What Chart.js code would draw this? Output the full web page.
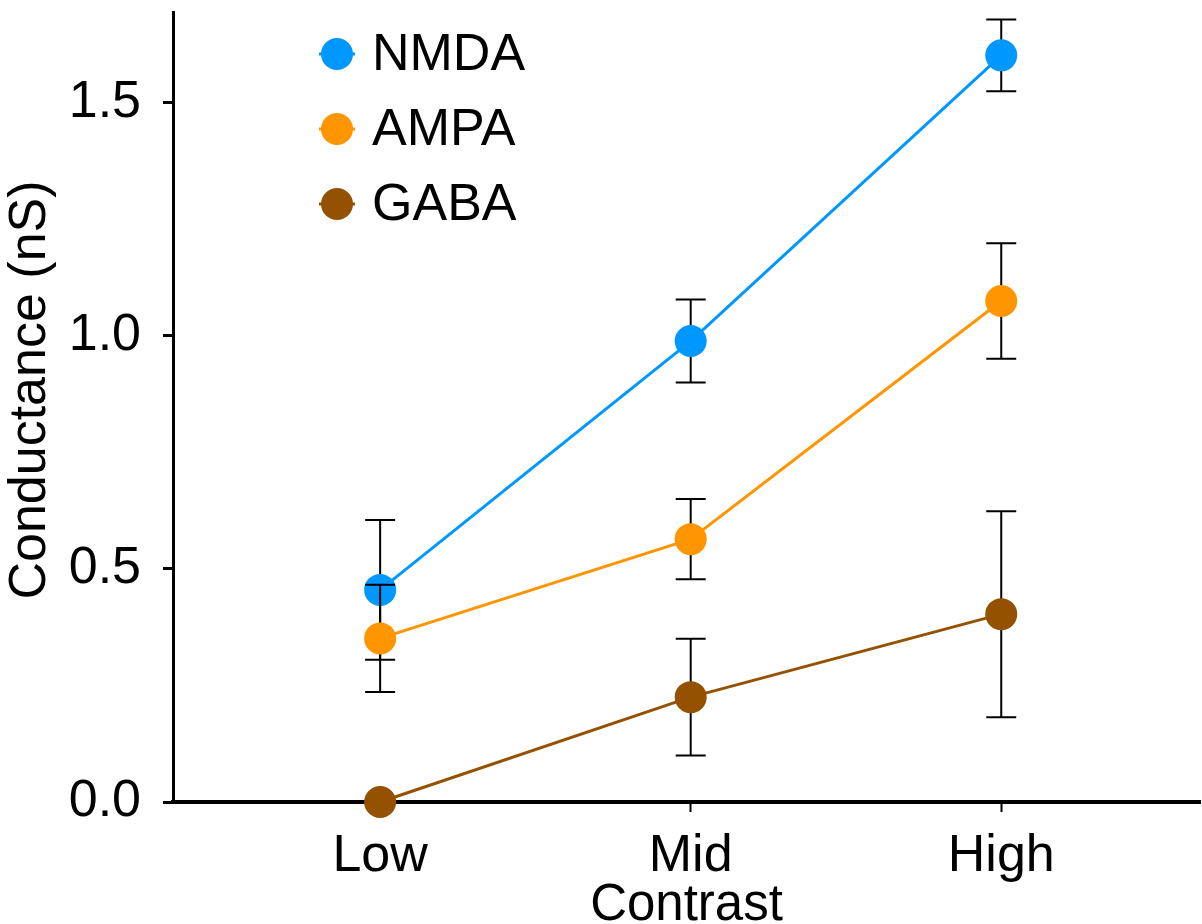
<!DOCTYPE html>
<html>
<head>
<meta charset="utf-8">
<script src="https://cdn.jsdelivr.net/npm/chart.js@4"></script>
<style>
  html, body { margin: 0; padding: 0; background: #fff; }
  #wrap { width: 1202px; height: 924px; position: relative; }
</style>
</head>
<body>
<div id="wrap"><canvas id="chart"></canvas></div>
<script>
// Data
const categories = ['Low', 'Mid', 'High'];
const seriesNames = ['NMDA', 'AMPA', 'GABA'];
const nmdaMean = [0.455, 0.989, 1.602];
const nmdaErr = [0.150, 0.089, 0.077];
const ampaMean = [0.351, 0.564, 1.075];
const ampaErr = [0.115, 0.086, 0.124];
const gabaMean = [0.0, 0.225, 0.403];
const gabaErr = [0.0, 0.125, 0.221];
const yTicks = [0, 0.5, 1.0, 1.5];

const colors = ['#0098ff', '#ff9500', '#945200'];
const FONT = "'Liberation Sans', Arial, Helvetica, sans-serif";

function points(arr) {
    return arr.map((v, i) => ({ x: i, y: v }));
}

function makeDataset(idx, mean, err) {
    return {
        label: seriesNames[idx],
        data: points(mean),
        errors: err,
        borderColor: colors[idx],
        backgroundColor: colors[idx],
        borderWidth: 3,
        pointRadius: 16,
        pointHoverRadius: 16,
        pointBorderWidth: 0,
        pointBackgroundColor: colors[idx],
        tension: 0,
        clip: false,
        order: 3 - idx // draw NMDA first, GABA last
    };
}

// Error bars drawn through the chart scales, just before each dataset
const errorBars = {
    id: 'errorBars',
    beforeDatasetDraw(chart, args) {
        const ds = chart.data.datasets[args.index];
        if (!ds.errors) return;
        const { ctx, scales: { x, y } } = chart;
        ctx.save();
        ctx.strokeStyle = '#000';
        ctx.lineWidth = 2;
        ds.data.forEach((p, i) => {
            const e = ds.errors[i];
            if (!e) return;
            const px = x.getPixelForValue(p.x);
            const top = y.getPixelForValue(p.y + e);
            const bot = y.getPixelForValue(p.y - e);
            ctx.beginPath();
            ctx.moveTo(px, top);
            ctx.lineTo(px, bot);
            ctx.moveTo(px - 15, top);
            ctx.lineTo(px + 15, top);
            ctx.moveTo(px - 15, bot);
            ctx.lineTo(px + 15, bot);
            ctx.stroke();
        });
        ctx.restore();
    }
};

// Legend in the upper left of the plot, and the y axis title
const plotLegend = {
    id: 'plotLegend',
    afterDraw(chart) {
        const ctx = chart.ctx;
        ctx.save();
        ctx.font = '52px ' + FONT;
        chart.data.datasets.forEach((ds, i) => {
            const cx = 337;
            const cy = 54 + i * 75;
            ctx.strokeStyle = ds.borderColor;
            ctx.lineWidth = 3;
            ctx.beginPath();
            ctx.moveTo(cx - 18, cy);
            ctx.lineTo(cx + 18, cy);
            ctx.stroke();
            ctx.fillStyle = ds.borderColor;
            ctx.beginPath();
            ctx.arc(cx, cy, 16, 0, Math.PI * 2);
            ctx.fill();
            ctx.fillStyle = '#000';
            ctx.textAlign = 'left';
            ctx.textBaseline = 'middle';
            ctx.fillText(ds.label, 372, cy + 2);
        });
        // y axis title
        ctx.translate(31, 390);
        ctx.rotate(-Math.PI / 2);
        ctx.textAlign = 'center';
        ctx.textBaseline = 'middle';
        ctx.fillStyle = '#000';
        ctx.fillText('Conductance (nS)', 0, 0);
        ctx.restore();
    }
};

new Chart(document.getElementById('chart'), {
    type: 'line',
    data: {
        datasets: [
            makeDataset(0, nmdaMean, nmdaErr),
            makeDataset(1, ampaMean, ampaErr),
            makeDataset(2, gabaMean, gabaErr)
        ]
    },
    options: {
        responsive: true,
        maintainAspectRatio: false,
        animation: false,
        events: [],
        layout: {
            autoPadding: false,
            padding: { left: 0, right: 2, top: 12, bottom: 0 }
        },
        plugins: {
            legend: { display: false },
            tooltip: { enabled: false }
        },
        scales: {
            x: {
                type: 'linear',
                min: -0.667,
                max: 2.64,
                afterBuildTicks: (scale) => {
                    scale.ticks = categories.map((c, i) => ({ value: i }));
                },
                afterFit: (scale) => {
                    scale.height = 122;
                    scale.paddingLeft = 0;
                    scale.paddingRight = 0;
                },
                border: { display: true, color: '#000', width: 4 },
                grid: {
                    drawOnChartArea: false,
                    drawTicks: true,
                    tickLength: 10,
                    tickColor: '#000',
                    tickWidth: 2
                },
                ticks: {
                    color: '#000',
                    padding: 13,
                    maxRotation: 0,
                    font: { family: FONT, size: 52 },
                    callback: (value) => categories[value]
                },
                title: {
                    display: true,
                    text: 'Contrast',
                    color: '#000',
                    padding: { top: 0, bottom: 0 },
                    font: { family: FONT, size: 51, lineHeight: 0.7 }
                }
            },
            y: {
                type: 'linear',
                min: 0,
                max: 1.695,
                afterBuildTicks: (scale) => {
                    scale.ticks = yTicks.map(v => ({ value: v }));
                },
                afterFit: (scale) => {
                    scale.width = 173;
                    scale.paddingTop = 0;
                    scale.paddingBottom = 0;
                },
                border: { display: true, color: '#000', width: 3 },
                grid: {
                    drawOnChartArea: false,
                    drawTicks: true,
                    tickLength: 10,
                    tickColor: '#000',
                    tickWidth: 3
                },
                ticks: {
                    color: '#000',
                    padding: 22,
                    font: { family: FONT, size: 52 },
                    callback: (value) => value.toFixed(1)
                }
            }
        }
    },
    plugins: [errorBars, plotLegend]
});
</script>
</body>
</html>
